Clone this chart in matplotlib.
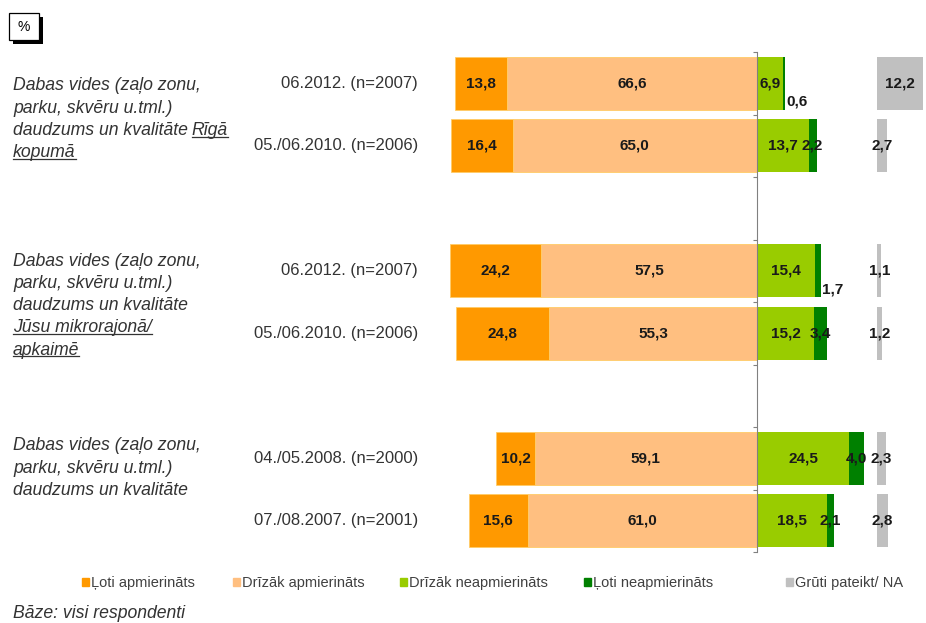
import matplotlib.pyplot as plt
import numpy as np
from matplotlib.patches import Patch, Rectangle
from matplotlib.lines import Line2D
from matplotlib.transforms import Affine2D

plt.rcParams['font.family'] = ['Liberation Sans', 'DejaVu Sans']

# dati
rows = ['06.2012. (n=2007)', '05./06.2010. (n=2006)',
        '06.2012. (n=2007)', '05./06.2010. (n=2006)',
        '04./05.2008. (n=2000)', '07./08.2007. (n=2001)']
row_pos = [0, 1, 3, 4, 6, 7]
loti_apm = [13.8, 16.4, 24.2, 24.8, 10.2, 15.6]
drizak_apm = [66.6, 65.0, 57.5, 55.3, 59.1, 61.0]
drizak_neapm = [6.9, 13.7, 15.4, 15.2, 24.5, 18.5]
loti_neapm = [0.6, 2.2, 1.7, 3.4, 4.0, 2.1]
na = [12.2, 2.7, 1.1, 1.2, 2.3, 2.8]
na_offset = 32

legend_labels = ['Ļoti apmierināts', 'Drīzāk apmierināts', 'Drīzāk neapmierināts',
                 'Ļoti neapmierināts', 'Grūti pateikt/ NA']
colors = ['#FF9900', '#FFBF80', '#99CC00', '#008000', '#C0C0C0']

# grupu teksti: (y pikseļos, rindas ar (teksts, pasvītrots))
groups = [
    (86, [[('Dabas vides (zaļo zonu,', False)],
          [('parku, skvēru u.tml.)', False)],
          [('daudzums un kvalitāte', False), ('Rīgā', True)],
          [('kopumā', True)]]),
    (261, [[('Dabas vides (zaļo zonu,', False)],
           [('parku, skvēru u.tml.)', False)],
           [('daudzums un kvalitāte', False)],
           [('Jūsu mikrorajonā/', True)],
           [('apkaimē', True)]]),
    (446, [[('Dabas vides (zaļo zonu,', False)],
           [('parku, skvēru u.tml.)', False)],
           [('daudzums un kvalitāte', False)]]),
]

W, H = 926, 623
fig = plt.figure(figsize=(W / 100, H / 100), dpi=100)
pix = Affine2D().scale(1 / W, -1 / H).translate(0, 1) + fig.transFigure

px_per = 3.76
ax = fig.add_axes([430 / W, 1 - 552 / H, 496 / W, 500 / H])
ax.set_xlim((430 - 757) / px_per, (926 - 757) / px_per)
ax.set_ylim(7.5, -0.5)

a = np.array(loti_apm)
b = np.array(drizak_apm)
c = np.array(drizak_neapm)
d = np.array(loti_neapm)
n = np.array(na)
h = 0.85

ax.barh(row_pos, a, left=-(a + b), height=h, color=colors[0], edgecolor='#FFCC66', linewidth=0.6)
ax.barh(row_pos, b, left=-b, height=h, color=colors[1], edgecolor='#FFCC66', linewidth=0.6)
ax.barh(row_pos, c, left=0, height=h, color=colors[2])
ax.barh(row_pos, d, left=c, height=h, color=colors[3])
ax.barh(row_pos, n, left=na_offset, height=h, color=colors[4])


def fmt(v):
    return f'{v:.1f}'.replace('.', ',')


lab = dict(fontsize=11, fontweight='bold', color='#1a1a1a', va='center')
for i, y in enumerate(row_pos):
    ax.text(-(b[i] + a[i] / 2), y, fmt(a[i]), ha='center', **lab)
    ax.text(-b[i] / 2, y, fmt(b[i]), ha='center', **lab)
    ax.text(c[i] / 2, y, fmt(c[i]), ha='center', **lab)
    if d[i] < 2:
        ax.text(c[i] + d[i] + 0.3, y + 0.3, fmt(d[i]), ha='left', **lab)
    else:
        ax.text(c[i] + d[i] / 2, y, fmt(d[i]), ha='center', **lab)
    ax.text(na_offset + n[i] / 2, y, fmt(n[i]), ha='center', **lab)
    ax.text(-0.024, y, rows[i], transform=ax.get_yaxis_transform(), ha='right', va='center',
            fontsize=12, color='#333333')

for s in ['top', 'right', 'bottom']:
    ax.spines[s].set_visible(False)
ax.spines['left'].set_position(('data', 0))
ax.spines['left'].set_color('#808080')
ax.set_yticks(np.arange(-0.5, 8, 1))
ax.tick_params(axis='y', length=3, color='#808080', labelleft=False)
ax.set_xticks([])

# grupu nosaukumi
renderer = fig.canvas.get_renderer()
for y0, lines in groups:
    for k, line in enumerate(lines):
        yy = y0 + k * 22.3
        x = 13
        for txt, ul in line:
            t = fig.text(x, yy, txt, transform=pix, fontsize=12.7, style='italic',
                         color='#333333', va='center', ha='left')
            bb = t.get_window_extent(renderer)
            if ul:
                yl = (bb.y0 + 2.5) / H
                fig.add_artist(Line2D([bb.x0 / W, bb.x1 / W], [yl, yl],
                                      transform=fig.transFigure, color='#333333', lw=0.9))
            x = bb.x1 + 4

# % lodziņš
fig.add_artist(Rectangle((13, 17), 30, 27, transform=pix, facecolor='black', edgecolor='none'))
fig.add_artist(Rectangle((9, 13), 30, 27, transform=pix, facecolor='white', edgecolor='black', lw=0.9))
fig.text(24, 27, '%', transform=pix, ha='center', va='center', fontsize=10)

# leģenda
leg_x = [82, 233, 400, 584, 786]
for lx, col, lb in zip(leg_x, colors, legend_labels):
    fig.legend([Patch(color=col)], [lb], loc='center left', bbox_to_anchor=(lx / W, 1 - 583 / H),
               frameon=False, fontsize=10.5, handlelength=0.5, handleheight=0.5,
               handletextpad=0.15, borderpad=0, borderaxespad=0, labelcolor='#404040')

fig.text(13, 613, 'Bāze: visi respondenti', transform=pix, fontsize=12.7, style='italic',
         color='#333333', va='center')

fig.savefig('out.png', dpi=100)
